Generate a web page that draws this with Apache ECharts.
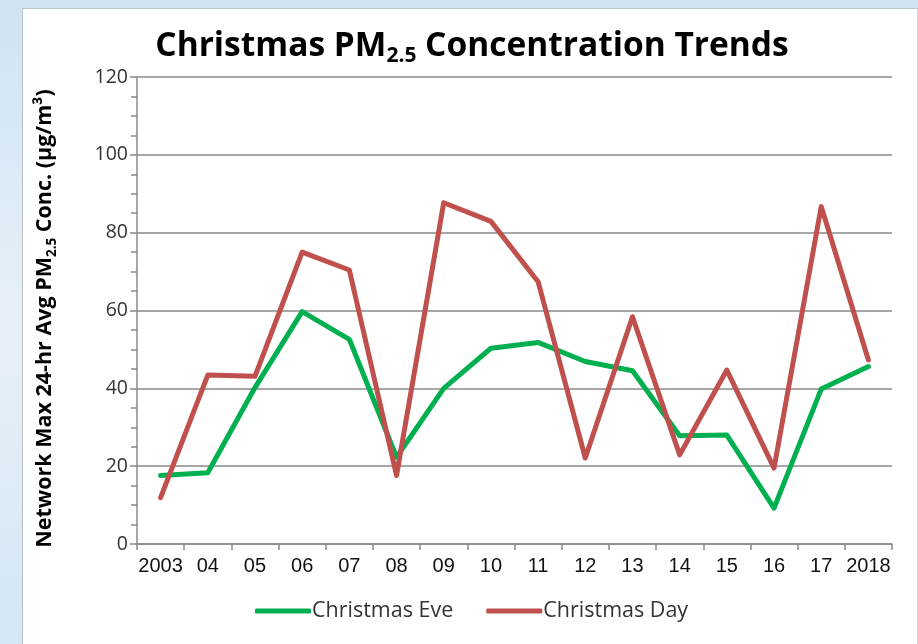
<!DOCTYPE html>
<html>
<head>
<meta charset="utf-8">
<script src="https://cdn.jsdelivr.net/npm/echarts@6/dist/echarts.min.js"></script>
<style>
  html, body { margin: 0; padding: 0; width: 918px; height: 644px; overflow: hidden; }
  body { background: linear-gradient(180deg, #cfe3f3 0%, #e6f0f8 50%, #d5e6f4 100%); }
  #panel {
    position: absolute; left: 22px; top: 8px; width: 894px; height: 640px;
    background: #fff; border-left: 1px solid #b9c3cc; border-top: 1px solid #b9c3cc; border-right: 1px solid #d0d6dc;
  }
  #chart { position: absolute; left: 0; top: 0; width: 918px; height: 644px; }
</style>
</head>
<body>
<div id="panel"></div>
<div id="chart"></div>
<script>
var years = ["2003", "04", "05", "06", "07", "08", "09", "10", "11", "12", "13", "14", "15", "16", "17", "2018"];
var christmasEve = [17.6, 18.3, 40.2, 59.7, 52.6, 22.3, 40.0, 50.3, 51.8, 46.9, 44.5, 27.8, 28.0, 9.2, 39.8, 45.6];
var christmasDay = [11.9, 43.4, 43.1, 75.0, 70.4, 17.6, 87.7, 82.9, 67.4, 22.1, 58.4, 22.9, 44.7, 19.5, 86.7, 47.3];
var yTicks = [0, 20, 40, 60, 80, 100, 120];

var chart = echarts.init(document.getElementById("chart"));
var gridColor = "#8a8a8a";
var option = {
  backgroundColor: "transparent",
  animation: false,
  title: {
    text: "{a|Christmas PM}{s|2.5}{a| Concentration Trends}",
    left: 467,
    textAlign: "center",
    top: 20,
    textStyle: {
      rich: {
        a: { fontFamily: "Open Sans", fontWeight: "bold", fontSize: 33.5, color: "#000", lineHeight: 42 },
        s: { fontFamily: "Open Sans", fontWeight: "bold", fontSize: 21, color: "#000", lineHeight: 20, verticalAlign: "top", padding: [21, 0, 0, 0] }
      }
    }
  },
  legend: {
    bottom: 22,
    left: 255,
    padding: 0,
    icon: "roundRect",
    itemWidth: 56,
    itemHeight: 5,
    itemGap: 33,
    textStyle: { fontFamily: "Open Sans", fontSize: 21.5, color: "#333", padding: [0, 0, 0, -4] },
    data: ["Christmas Eve", "Christmas Day"]
  },
  grid: { left: 137, right: 26, top: 77, bottom: 100, containLabel: false },
  xAxis: {
    type: "category",
    data: years,
    boundaryGap: true,
    axisLine: { lineStyle: { color: gridColor, width: 1.5 } },
    axisTick: { show: true, length: 6, lineStyle: { color: gridColor, width: 1.5 } },
    axisLabel: { fontFamily: "Liberation Sans", fontSize: 20, color: "#111", margin: 12, interval: 0 }
  },
  yAxis: {
    type: "value",
    min: yTicks[0],
    max: yTicks[yTicks.length - 1],
    interval: 20,
    name: "{a|Network Max 24-hr Avg PM}{s|2.5}{a| Conc. (µg/m³)}",
    nameLocation: "middle",
    nameRotate: 90,
    nameGap: 78,
    nameTextStyle: {
      padding: [0, 16, 0, 0],
      rich: {
        a: { fontFamily: "Open Sans", fontWeight: "bold", fontSize: 21.5, color: "#000", lineHeight: 28 },
        s: { fontFamily: "Open Sans", fontWeight: "bold", fontSize: 13.5, color: "#000", lineHeight: 13, verticalAlign: "top", padding: [14, 0, 0, 0] }
      }
    },
    axisLine: { show: true, lineStyle: { color: gridColor, width: 1.5 } },
    axisTick: { show: true, length: 7, lineStyle: { color: gridColor, width: 1.5 } },
    minorTick: { show: true, splitNumber: 4, length: 6, lineStyle: { color: gridColor, width: 1.5 } },
    splitLine: { show: true, lineStyle: { color: gridColor, width: 1.5 } },
    axisLabel: { fontFamily: "Open Sans", fontSize: 19.5, color: "#333", margin: 9 }
  },
  series: [
    {
      name: "Christmas Eve",
      type: "line",
      data: christmasEve,
      symbol: "none",
      color: "#00b050",
      lineStyle: { width: 5, color: "#00b050", cap: "round", join: "round" }
    },
    {
      name: "Christmas Day",
      type: "line",
      data: christmasDay,
      symbol: "none",
      color: "#c0504d",
      lineStyle: { width: 5, color: "#c0504d", cap: "round", join: "round" }
    }
  ]
};
chart.setOption(option);
</script>
</body>
</html>
